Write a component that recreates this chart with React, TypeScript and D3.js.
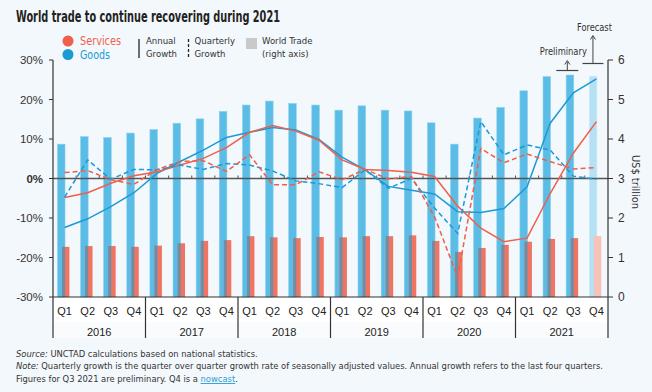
import React from 'react';
import { scaleBand, scaleLinear, line } from 'd3';

const width = 652;
const height = 392;

const years = ['2016', '2017', '2018', '2019', '2020', '2021'];
const quarterNames = ['Q1', 'Q2', 'Q3', 'Q4'];
const quarters = years.flatMap(y => quarterNames.map(q => y + q));

// US$ trillion (right axis)
const goodsTrade = [3.87, 4.06, 4.04, 4.15, 4.24, 4.40, 4.51, 4.70, 4.86, 4.96, 4.90, 4.86, 4.73, 4.84, 4.73, 4.71, 4.41, 3.87, 4.53, 4.80, 5.22, 5.58, 5.62, 5.59];
const servicesTrade = [1.27, 1.29, 1.29, 1.27, 1.30, 1.36, 1.42, 1.44, 1.54, 1.51, 1.49, 1.52, 1.51, 1.54, 1.54, 1.56, 1.42, 1.14, 1.24, 1.32, 1.40, 1.47, 1.49, 1.54];

// growth rates, % (left axis)
const goodsAnnual = [-12.4, -10.2, -7.1, -3.6, 1.3, 4.3, 7.2, 10.4, 11.7, 12.9, 12.3, 9.9, 5.4, 2.2, -2.0, -3.0, -3.9, -8.4, -8.6, -7.6, -2.1, 14.0, 21.7, 25.2];
const servicesAnnual = [-4.8, -3.6, -1.2, 0.7, 1.7, 3.4, 5.1, 7.8, 11.7, 13.4, 12.0, 9.7, 4.7, 2.3, 2.0, 1.6, 0.5, -7.0, -12.6, -16.0, -15.1, -3.8, 6.4, 14.4];
const goodsQuarterly = [-4.7, 4.7, -0.2, 2.3, 2.2, 3.4, 2.3, 3.8, 3.4, 1.9, -0.6, -1.3, -2.3, 2.2, -2.5, 0.0, -7.5, -13.9, 14.4, 6.0, 8.5, 7.2, 0.6, -0.2];
const servicesQuarterly = [1.5, 2.0, -0.3, -1.5, 2.3, 4.3, 4.5, 1.8, 6.0, -1.6, -1.6, 1.7, -0.3, 2.3, -0.1, 0.5, -9.7, -25.0, 7.6, 4.0, 6.2, 4.3, 2.4, 2.8];

const leftTicks = [30, 20, 10, 0, -10, -20, -30];
const rightTicks = [0, 1, 2, 3, 4, 5, 6];

const blue = '#1b9ad6';
const red = '#ef5f4a';
const narrow = '"Liberation Sans Narrow", "DejaVu Sans Condensed", "Arial Narrow", sans-serif';
const sans = '"Liberation Sans", Arial, sans-serif';

const x = scaleBand().domain(quarters).range([53, 608]);
const yL = scaleLinear().domain([-30, 30]).range([297, 60]);
const yR = scaleLinear().domain([0, 6]).range([297, 60]);
const bw = x.bandwidth();
const cx = (i: number) => (x(quarters[i]) as number) + bw / 2;

const pathL = line<number>().x((d, i) => cx(i)).y(d => yL(d));

const App = () => {
  const last = quarters.length - 1;
  return (
    <svg width={width} height={height} style={{ position: 'absolute', left: 0, top: 0 }}>
      <rect width={width} height={height} fill="#f3f8fc" />

      <text x={16} y={22} fontFamily={narrow} fontWeight="bold" fontSize={15} fill="#222"
        textLength={264} lengthAdjust="spacingAndGlyphs">World trade to continue recovering during 2021</text>

      {/* legend */}
      <circle cx={68} cy={41} r={5.5} fill={red} />
      <text x={80} y={45} fontFamily={narrow} fontSize={12} fill={red} textLength={41} lengthAdjust="spacingAndGlyphs">Services</text>
      <circle cx={68} cy={54.5} r={5.5} fill={blue} />
      <text x={80} y={58.5} fontFamily={narrow} fontSize={12} fill={blue} textLength={30} lengthAdjust="spacingAndGlyphs">Goods</text>
      <line x1={139} x2={139} y1={39} y2={58} stroke="#222" strokeWidth={1.3} />
      <text x={146} y={44} fontFamily={narrow} fontSize={9.5} fill="#333">Annual</text>
      <text x={146} y={57} fontFamily={narrow} fontSize={9.5} fill="#333">Growth</text>
      <line x1={188.5} x2={188.5} y1={39} y2={58} stroke="#222" strokeWidth={1.3} strokeDasharray="3,2" />
      <text x={194.5} y={44} fontFamily={narrow} fontSize={9.5} fill="#333">Quarterly</text>
      <text x={194.5} y={57} fontFamily={narrow} fontSize={9.5} fill="#333">Growth</text>
      <rect x={246} y={38} width={11} height={11} fill="#c9c9c9" />
      <text x={262} y={44} fontFamily={narrow} fontSize={9.5} fill="#333">World Trade</text>
      <text x={262} y={57} fontFamily={narrow} fontSize={9.5} fill="#333">(right axis)</text>

      {/* axis label rows */}
      <rect x={53} y={297} width={555} height={25} fill="#ffffff" />
      <rect x={53} y={322} width={555} height={16} fill="#f9fbfd" />

      {/* bars */}
      {quarters.map((q, i) => {
        const x0 = x(q) as number;
        const bx = x0 + bw * 0.19;
        const bW = bw * 0.33;
        const rx = x0 + bw * 0.39;
        const rW = bw * 0.32;
        const fc = i === last;
        return (
          <g key={q}>
            <rect x={bx} y={yR(goodsTrade[i])} width={bW} height={yR(0) - yR(goodsTrade[i])}
              fill={fc ? '#b6e0f4' : '#5bbde6'} stroke={fc ? '#cdeaf8' : '#8fd2ef'} strokeWidth={0.6} />
            <rect x={rx} y={yR(servicesTrade[i])} width={rW} height={yR(0) - yR(servicesTrade[i])}
              fill={fc ? '#f6c2b9' : '#f07462'} />
            {!fc && (
              <rect x={rx} y={yR(servicesTrade[i])} width={bx + bW - rx} height={yR(0) - yR(servicesTrade[i])}
                fill="#6f8ea6" />
            )}
          </g>
        );
      })}

      {/* zero line with quarter ticks */}
      <line x1={53} x2={608} y1={yL(0)} y2={yL(0)} stroke="#555" strokeWidth={1.6} />
      {quarters.slice(1).map(q => (
        <line key={q} x1={x(q)} x2={x(q)} y1={yL(0)} y2={yL(0) - 3} stroke="#555" strokeWidth={1} />
      ))}

      {/* growth lines */}
      <path d={pathL(goodsAnnual) || ''} fill="none" stroke={blue} strokeWidth={1.5} />
      <path d={pathL(servicesAnnual) || ''} fill="none" stroke={red} strokeWidth={1.5} />
      <path d={pathL(goodsQuarterly) || ''} fill="none" stroke={blue} strokeWidth={1.5} strokeDasharray="5,3" />
      <path d={pathL(servicesQuarterly) || ''} fill="none" stroke={red} strokeWidth={1.5} strokeDasharray="5,3" />

      {/* left axis */}
      <line x1={53} x2={53} y1={60} y2={338} stroke="#333" strokeWidth={1.2} />
      {leftTicks.map(t => (
        <g key={t}>
          <line x1={49} x2={53} y1={yL(t)} y2={yL(t)} stroke="#333" strokeWidth={1} />
          <text x={43} y={yL(t) + 4} textAnchor="end" fontFamily={sans} fontSize={11.5}
            fontWeight={t === 0 ? 'bold' : 'normal'} fill="#333">{t + '%'}</text>
        </g>
      ))}

      {/* right axis */}
      <line x1={608} x2={608} y1={60} y2={338} stroke="#333" strokeWidth={1.2} />
      {rightTicks.map(t => (
        <g key={t}>
          <line x1={608} x2={613} y1={yR(t)} y2={yR(t)} stroke="#333" strokeWidth={1} />
          <text x={618} y={yR(t) + 4} fontFamily={sans} fontSize={12} fill="#333">{t}</text>
        </g>
      ))}
      <text transform="translate(632,182) rotate(90)" textAnchor="middle" fontFamily={narrow} fontSize={11} fill="#333">US$ trillion</text>

      {/* bottom axis */}
      <line x1={53} x2={608} y1={297} y2={297} stroke="#333" strokeWidth={1.2} />
      {quarters.map((q, i) => (
        <text key={q} x={cx(i)} y={315} textAnchor="middle" fontFamily={sans} fontSize={11} fill="#222">
          {quarterNames[i % 4]}
        </text>
      ))}
      {years.map((yv, j) => {
        const x0 = x(yv + 'Q1') as number;
        return (
          <g key={yv}>
            {j > 0 && <line x1={x0} x2={x0} y1={297} y2={338} stroke="#333" strokeWidth={1.2} />}
            <text x={x0 + bw * 2} y={336} textAnchor="middle" fontFamily={sans} fontSize={11} fill="#222">{yv}</text>
          </g>
        );
      })}

      {/* preliminary / forecast annotations */}
      <line x1={cx(22) - 17} x2={cx(22) + 5} y1={70.5} y2={70.5} stroke="#444" strokeWidth={1.2} />
      <line x1={cx(22) - 6} x2={cx(22) - 6} y1={70.5} y2={62} stroke="#444" strokeWidth={1} />
      <path d={`M${cx(22) - 8.5},64.5 L${cx(22) - 6},60.5 L${cx(22) - 3.5},64.5`} fill="none" stroke="#444" strokeWidth={1} />
      <text x={cx(22) - 10} y={55} textAnchor="middle" fontFamily={narrow} fontSize={11} fill="#333"
        textLength={47} lengthAdjust="spacingAndGlyphs">Preliminary</text>
      <line x1={cx(23) - 14} x2={cx(23) + 7} y1={63.5} y2={63.5} stroke="#444" strokeWidth={1.2} />
      <line x1={cx(23) - 3.5} x2={cx(23) - 3.5} y1={63.5} y2={36} stroke="#444" strokeWidth={1} />
      <path d={`M${cx(23) - 6},39.5 L${cx(23) - 3.5},35.5 L${cx(23) - 1},39.5`} fill="none" stroke="#444" strokeWidth={1} />
      <text x={cx(23) - 2} y={31} textAnchor="middle" fontFamily={narrow} fontSize={11} fill="#333"
        textLength={35} lengthAdjust="spacingAndGlyphs">Forecast</text>

      {/* footnotes */}
      <text x={16} y={357} fontFamily={narrow} fontSize={9.3} fill="#333">
        <tspan fontStyle="italic">Source:</tspan> UNCTAD calculations based on national statistics.
      </text>
      <text x={16} y={369} fontFamily={narrow} fontSize={9.3} fill="#333">
        <tspan fontStyle="italic">Note:</tspan> Quarterly growth is the quarter over quarter growth rate of seasonally adjusted values. Annual growth refers to the last four quarters.
      </text>
      <text x={16} y={382} fontFamily={narrow} fontSize={9.3} fill="#333">
        Figures for Q3 2021 are preliminary. Q4 is a <tspan fill="#2a9fd6" textDecoration="underline">nowcast</tspan>.
      </text>
    </svg>
  );
};

export default App;
